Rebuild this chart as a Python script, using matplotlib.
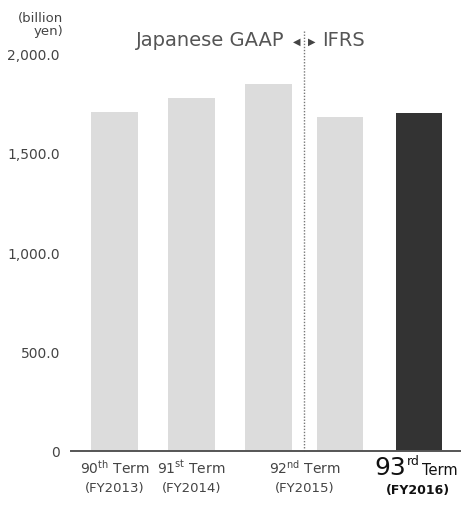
import matplotlib
matplotlib.use("Agg")
import matplotlib.pyplot as plt

plt.rcParams['font.family'] = ['DejaVu Sans']
plt.rcParams['mathtext.default'] = 'regular'

# Net sales by fiscal term (billion yen)
fiscal_years = ["FY2013", "FY2014", "FY2015", "FY2015", "FY2016"]
standards = ["Japanese GAAP", "Japanese GAAP", "Japanese GAAP", "IFRS", "IFRS"]
values = [1707.0, 1776.0, 1846.0, 1679.0, 1699.0]
term_labels = ["90$^{th}$ Term", "91$^{st}$ Term", "92$^{nd}$ Term"]
year_labels = ["(FY2013)", "(FY2014)", "(FY2015)", "(FY2016)"]
y_ticks = [0, 500, 1000, 1500, 2000]

W, H = 461, 510
fig = plt.figure(figsize=(W / 100, H / 100), dpi=100)
ax = fig.add_axes([71 / W, 1 - 452 / H, 1 - 71 / W, (452 - 54.5) / H])

# bar layout: the two FY2015 bars sit a little closer together
x_pos = [0, 1, 2, 2.93, 3.95]
colors = ["#dcdcdc"] * 4 + ["#333333"]
ax.bar(x_pos, values, width=0.6, color=colors, zorder=2)

ax.set_ylim(0, 2000)
ax.set_xlim(-0.565, 4.5)
ax.set_yticks(y_ticks)
ax.set_yticklabels(["0" if v == 0 else f"{v:,.1f}" for v in y_ticks],
                   fontsize=10, color="#444444")
ax.tick_params(axis="y", length=0, pad=8)
ax.set_xticks([])
for s in ["left", "right", "top"]:
    ax.spines[s].set_visible(False)
ax.spines["bottom"].set_color("#555555")
ax.spines["bottom"].set_linewidth(1.4)
ax.spines["bottom"].set_zorder(3)

# accounting-standard boundary
split = (x_pos[2] + x_pos[3]) / 2
ax.plot([split, split], [0, 2115], linestyle=(0, (1, 1.2)), color="#777777",
        lw=1.0, clip_on=False, zorder=1)

def px(x, y):
    return x / W, 1 - y / H

fig.text(*px(284, 41), "Japanese GAAP", ha="right", va="center",
         fontsize=14, color="#555555")
fig.text(*px(297, 42), "◀", ha="center", va="center", fontsize=7,
         color="#444444")
fig.text(*px(312, 42), "▶", ha="center", va="center", fontsize=7,
         color="#444444")
fig.text(*px(322, 41), "IFRS", ha="left", va="center",
         fontsize=14, color="#555555")

fig.text(*px(63, 25), "(billion\nyen)", ha="right", va="center",
         fontsize=9.5, color="#444444", linespacing=1.05)

# category labels
label_x = [114.5, 191.5, 304.5]
for lx, t, yl in zip(label_x, term_labels, year_labels[:3]):
    fig.text(*px(lx, 468), t, ha="center", va="center", fontsize=10,
             color="#444444")
    fig.text(*px(lx, 489), yl, ha="center", va="center", fontsize=9.5,
             color="#444444")

fig.text(*px(374, 475), "93", ha="left", va="baseline", fontsize=18,
         color="#111111")
fig.text(*px(407, 465), "rd", ha="left", va="baseline", fontsize=9,
         color="#111111")
fig.text(*px(422, 475), "Term", ha="left", va="baseline", fontsize=10.5,
         color="#111111")
fig.text(*px(418, 491), year_labels[3], ha="center", va="center",
         fontsize=9, color="#111111", fontweight="bold")

fig.savefig("out.png", dpi=100, facecolor="white")
